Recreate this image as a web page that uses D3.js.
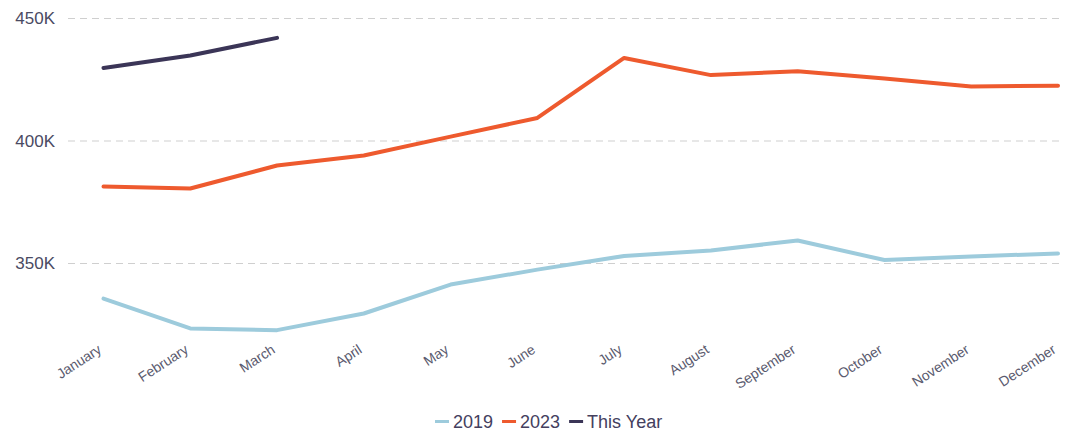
<!DOCTYPE html>
<html>
<head>
<meta charset="utf-8">
<script src="https://cdn.jsdelivr.net/npm/d3@7"></script>
<style>
  body { margin: 0; background: #fff; }
  svg { display: block; font-family: "Liberation Sans", Arial, sans-serif; }
</style>
</head>
<body>
<svg id="chart" width="1066" height="432"></svg>
<script>
  // data
  const months = ["January", "February", "March", "April", "May", "June",
    "July", "August", "September", "October", "November", "December"];
  const values2019 = [335700, 323500, 322800, 329600, 341400, 347500, 353100, 355300, 359400, 351400, 352900, 354100];
  const values2023 = [381400, 380600, 390000, 394100, 401800, 409400, 433900, 426900, 428500, 425500, 422200, 422600];
  const valuesThisYear = [429800, 434900, 442100];
  const yTicks = [350000, 400000, 450000];

  const seriesNames = ["2019", "2023", "This Year"];
  const seriesColors = ["#9dcbdc", "#ee5a2e", "#3b3557"];

  const svg = d3.select("#chart");

  const x = d3.scalePoint().domain(months).range([103.5, 1058]);
  // 350K at 263.5, 400K at 141 -> 50K = 122.5px
  const y = d3.scaleLinear().domain([350000, 450000]).range([263.5, 18.5]);

  // gridlines
  svg.append("g").selectAll("line").data(yTicks).enter().append("line")
      .attr("x1", 68).attr("x2", 1060)
      .attr("y1", d => y(d)).attr("y2", d => y(d))
      .attr("stroke", "#cfcfcf")
      .attr("stroke-width", 1)
      .attr("stroke-dasharray", "7,5");

  // y labels
  svg.append("g").selectAll("text").data(yTicks).enter().append("text")
      .attr("x", 55)
      .attr("y", d => y(d))
      .attr("dy", "0.35em")
      .attr("text-anchor", "end")
      .attr("fill", "#4a4a62")
      .attr("font-size", 17)
      .text(d => d3.format(".0f")(d / 1000) + "K");

  // x labels (rotated)
  svg.append("g").selectAll("text").data(months).enter().append("text")
      .attr("text-anchor", "end")
      .attr("transform", d => `translate(${x(d) - 1},${352}) rotate(-33)`)
      .attr("fill", "#5a5a6e")
      .attr("font-size", 14)
      .text(d => d);

  const line = d3.line()
      .x((d, i) => x(months[i]))
      .y(d => y(d));

  const allSeries = [values2019, values2023, valuesThisYear];
  svg.append("g").selectAll("path").data(allSeries).enter().append("path")
      .attr("d", d => line(d))
      .attr("fill", "none")
      .attr("stroke", (d, i) => seriesColors[i])
      .attr("stroke-width", 4)
      .attr("stroke-linejoin", "round")
      .attr("stroke-linecap", "round");

  // legend
  const legend = svg.append("g");
  let lx = 0;
  seriesNames.forEach((name, i) => {
    const g = legend.append("g").attr("transform", `translate(${lx},0)`);
    g.append("line")
        .attr("x1", 0).attr("x2", 14)
        .attr("y1", 0).attr("y2", 0)
        .attr("stroke", seriesColors[i])
        .attr("stroke-width", 3);
    const t = g.append("text")
        .attr("x", 18)
        .attr("dy", "0.35em")
        .attr("fill", "#44405e")
        .attr("font-size", 18)
        .text(name);
    lx += 18 + t.node().getComputedTextLength() + 9;
  });
  legend.attr("transform", `translate(${435},421.5)`);
</script>
</body>
</html>
